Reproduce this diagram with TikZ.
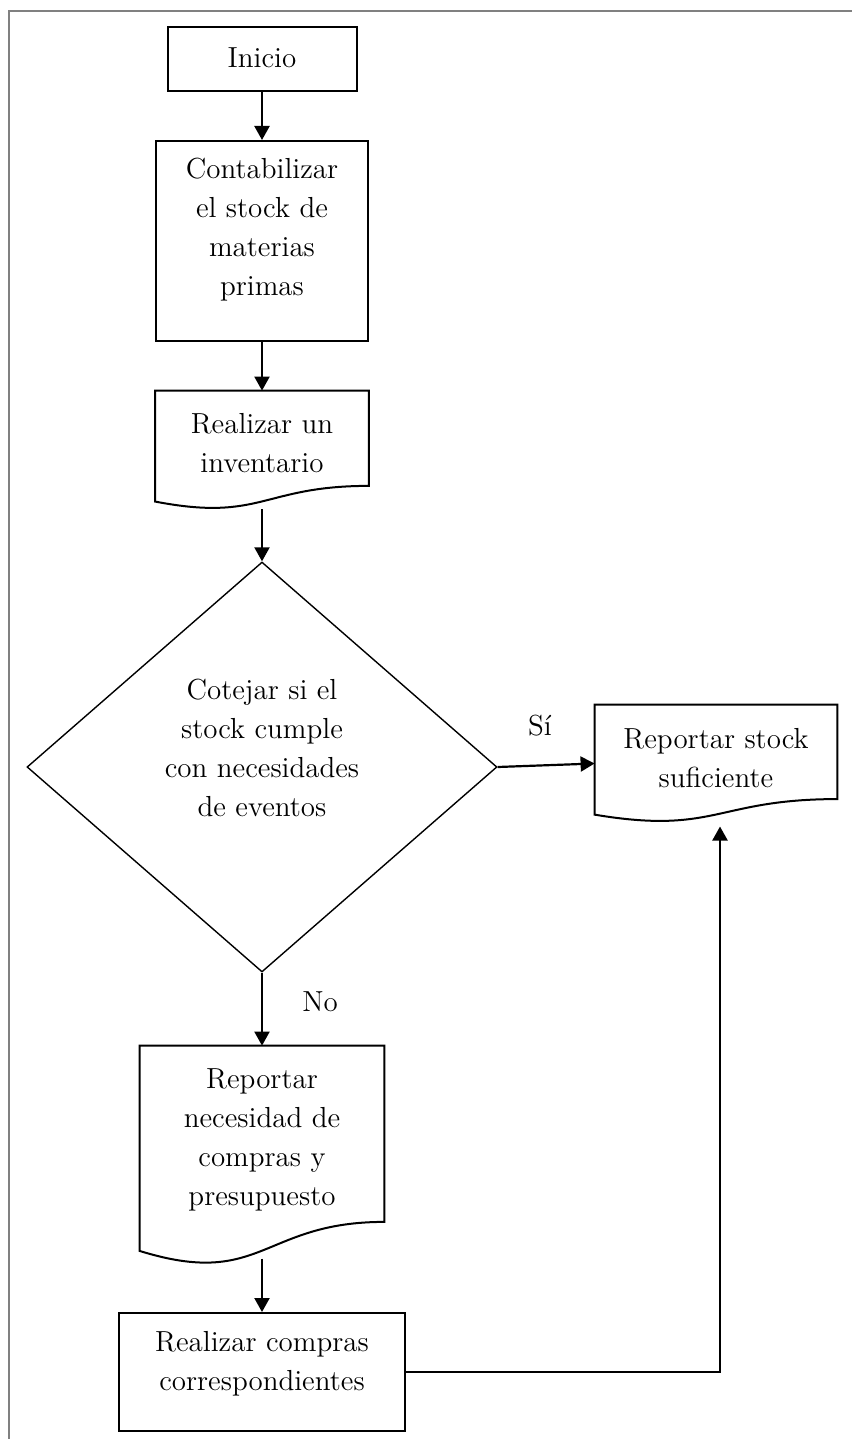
\documentclass[tikz,border=0pt]{standalone}
\usetikzlibrary{arrows.meta,calc,shapes.geometric}
\newcommand{\documento}[1]{\draw [linea] (#1.north west) -- (#1.north east) -- ($(#1.north east)!0.802!(#1.south east)$) .. controls ($(#1.north)!0.802!(#1.south)$) and ($(#1.north)!1.1075!(#1.south)$) .. ($(#1.north west)!0.934!(#1.south west)$) -- cycle;}
\tikzset{
  linea/.style={line width=1pt},
  caja/.style={draw, linea, inner sep=0pt},
  hoja/.style={inner sep=0pt},
  texto/.style={align=center, inner sep=0pt, font=\fontsize{14.5}{19.5}\selectfont},
  flecha/.style={line width=1.1pt, -{Triangle[width=7.5pt,length=7pt]}}
}
\begin{document}
\begin{tikzpicture}[x=0.5pt,y=-0.5pt]
\useasboundingbox (0,0) rectangle (852,1439);
\draw [gray, line width=1pt] (9,1439) -- (9,11) -- (852,11);
% cajas
\node [caja, minimum width=94.5pt, minimum height=32pt] (inicio) at (262,59) {};
\node [texto] (inicio-t) at (262,58) {Inicio};
\node [caja, minimum width=106pt, minimum height=100pt] (contab) at (262,241) {};
\node [texto] (contab-t) at (262,230) {Contabilizar\\el stock de\\materias\\primas};
\node [hoja, minimum width=106.5pt, minimum height=59pt] (inv) at (262,450) {};
\documento{inv}
\node [texto] (inv-t) at (262,443) {Realizar un\\inventario};
\node [diamond, draw, line width=0.7pt, inner sep=0pt, minimum width=235pt, minimum height=205pt] (dec) at (262,767) {};
\node [texto] (dec-t) at (262,748) {Cotejar si el\\stock cumple\\con necesidades\\de eventos};
\node [hoja, minimum width=121pt, minimum height=58.5pt] (sufi) at (716,763.5) {};
\documento{sufi}
\node [texto] (sufi-t) at (716,758) {Reportar stock\\suficiente};
\node [hoja, minimum width=122pt, minimum height=109.5pt] (nec) at (262,1155.5) {};
\documento{nec}
\node [texto] (nec-t) at (262,1140) {Reportar\\necesidad de\\compras y\\presupuesto};
\node [caja, minimum width=143pt, minimum height=59pt] (compras) at (262,1372) {};
\node [texto] (compras-t) at (262,1364) {Realizar compras\\correspondientes};
% etiquetas
\node [texto] (si) at (540,726) {Sí};
\node [texto] (no) at (320,1002) {No};
% flechas
\draw [flecha] (inicio.south) -- (contab.north);
\draw [flecha] (contab.south) -- (inv.north);
\draw [flecha, shorten <=4pt] ($(inv.north)!0.933!(inv.south)$) -- (dec.north);
\draw [flecha] (dec.east) -- (sufi.west);
\draw [flecha] (dec.south) -- (nec.north);
\draw [flecha, shorten <=4pt] ($(nec.north)!0.933!(nec.south)$) -- (compras.north);
\draw [flecha, shorten >=6pt] (compras.east) -| ($(sufi.north)!0.933!(sufi.south)+(4,0)$);
\end{tikzpicture}
\end{document}
